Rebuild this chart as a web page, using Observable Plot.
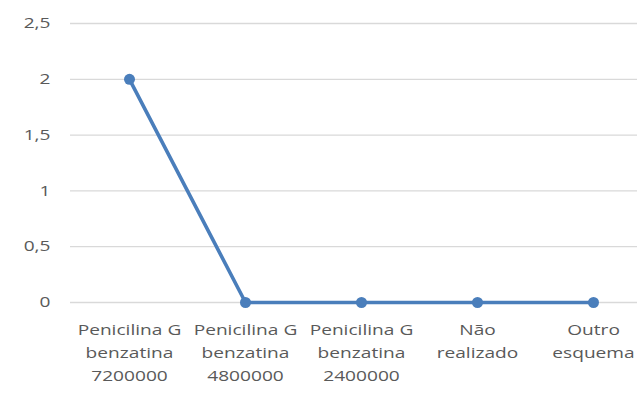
<!DOCTYPE html>
<html><head><meta charset="utf-8">
<script src="https://cdn.jsdelivr.net/npm/d3@7"></script>
<script src="https://cdn.jsdelivr.net/npm/@observablehq/plot@0.6"></script>
<style>
body{margin:0;background:#fff;}
svg{font-family:"Open Sans",sans-serif;}
</style>
</head><body>
<div id="chart"></div>
<script>
const categories = ["Penicilina G\nbenzatina\n7200000","Penicilina G\nbenzatina\n4800000","Penicilina G\nbenzatina\n2400000","Não\nrealizado","Outro\nesquema"];
const values = [2,0,0,0,0];
const yTicks = [0,0.5,1,1.5,2,2.5];
const data = categories.map((c,i)=>({c, v: values[i]}));
const fmt = d => String(d).replace(".", ",");
const chart = Plot.plot({
  width: 637, height: 400,
  marginTop: 23, marginBottom: 98, marginLeft: 70, marginRight: 0,
  style: {fontSize: "14.5px", color: "#595959", background: "#fff", overflow: "visible"},
  x: {type: "point", domain: categories, range: [70, 651], padding: 0.5, label: null},
  y: {domain: [0, 2.5], label: null},
  marks: [
    Plot.gridY(yTicks, {stroke: "#D9D9D9", strokeOpacity: 1, strokeWidth: 1.3}),
    Plot.axisY(yTicks, {tickSize: 0, tickPadding: 20, tickFormat: fmt, fontSize: 14.5, fill: "#595959"}),
    Plot.axisX({tickSize: 0, tickPadding: 16, fontSize: 14.5, fill: "#595959", lineHeight: 1.58, textAnchor: "middle"}),
    Plot.line(data, {x: "c", y: "v", stroke: "#4A7EBB", strokeWidth: 3.6}),
    Plot.dot(data, {x: "c", y: "v", fill: "#4A7EBB", r: 5.5, stroke: "none"})
  ]
});
// Stretch tick labels horizontally like the reference rendering
d3.select(chart).selectAll("g[aria-label$='tick label'] text").each(function() {
  const t = this.getAttribute("transform") || "";
  this.setAttribute("transform", t + " scale(1.32,1)");
});
document.getElementById("chart").appendChild(chart);
</script>
</body></html>
